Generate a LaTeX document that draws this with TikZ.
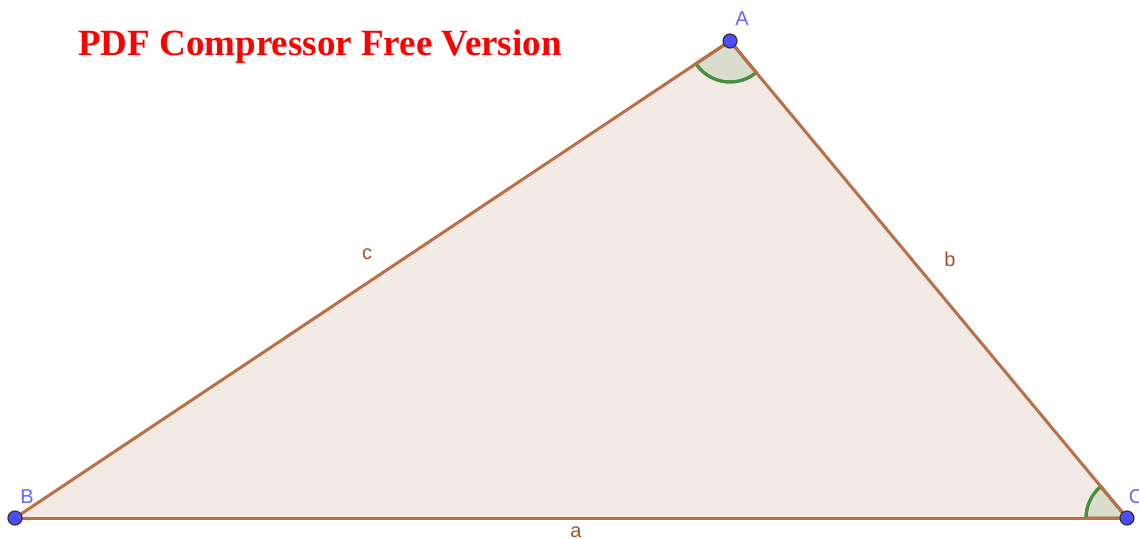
\documentclass[tikz,border=0pt]{standalone}
\usepackage{fontspec}
\setmainfont{Liberation Serif}
\setsansfont{Liberation Sans}
\usepackage{tikz}
\usetikzlibrary{positioning, calc}

\definecolor{sidebrown}{RGB}{184,112,72}
\definecolor{trifill}{RGB}{244,234,229}
\definecolor{ptblue}{RGB}{77,77,255}
\definecolor{lblblue}{RGB}{100,100,255}
\definecolor{lblbrown}{RGB}{160,82,40}
\definecolor{sectfill}{RGB}{218,220,205}
\definecolor{arcgreen}{RGB}{64,148,64}
\definecolor{raddark}{RGB}{125,78,30}
\definecolor{wmred}{RGB}{255,0,0}

\begin{document}
\begin{tikzpicture}[
        x=0.5pt, y=0.5pt,
        side_style/.style={line width=1.5pt, draw=sidebrown},
        sector_style/.style={fill=sectfill, draw=raddark, line width=1.5pt},
        arc_style/.style={line width=1.5pt, draw=arcgreen},
        pt_style/.style={circle, fill=ptblue, draw=black!80, line width=0.6pt,
                         minimum size=7pt, inner sep=0pt},
        vlabel/.style={font=\sffamily\fontsize{10}{12}\selectfont, text=lblblue, inner sep=0pt},
        slabel/.style={font=\sffamily\fontsize{10}{12}\selectfont, text=lblbrown, inner sep=0pt}
    ]
    \useasboundingbox (0,0) rectangle (1139,538);

    % =========================================================================
    % 1. VERTICES
    % =========================================================================
    \coordinate (A) at (730, 497);
    \coordinate (B) at (15, 20);
    \coordinate (C) at (1127, 20);

    % Triangle area
    \fill[trifill] (A) -- (B) -- (C) -- cycle;

    % =========================================================================
    % 2. ANGLE SECTORS
    % =========================================================================
    % Angle at A
    \path[sector_style] (A) -- ++(213.7:41) arc[start angle=213.7, end angle=309.8, radius=41] -- cycle;
    \draw[arc_style] ($(A)+(213.7:41)$) arc[start angle=213.7, end angle=309.8, radius=41];

    % Angle at C
    \path[sector_style] (C) -- ++(129.8:41) arc[start angle=129.8, end angle=180, radius=41] -- cycle;
    \draw[arc_style] ($(C)+(129.8:41)$) arc[start angle=129.8, end angle=180, radius=41];

    % =========================================================================
    % 3. SIDES
    % =========================================================================
    \draw[side_style] (A) -- (B);
    \draw[side_style] (A) -- (C);
    \draw[side_style] (B) -- (C);

    % Side labels
    \node[slabel] (lc) at (367, 284) {c};
    \node[slabel] (lb) at (950, 279) {b};
    \node[slabel] (la) at (576, 6) {a};

    % =========================================================================
    % 4. POINTS AND NAMES
    % =========================================================================
    \node[pt_style] (pA) at (A) {};
    \node[pt_style] (pB) at (B) {};
    \node[pt_style] (pC) at (C) {};

    \node[vlabel] (lA) at (742, 519) {A};
    \node[vlabel] (lB) at (27, 41) {B};
    \node[vlabel] (lC) at (1136, 41) {C};

    % Watermark
    \node[font=\bfseries\fontsize{18.5}{20}\selectfont, text=wmred, inner sep=0pt] (wm) at (320, 491) {PDF Compressor Free Version};

\end{tikzpicture}
\end{document}
